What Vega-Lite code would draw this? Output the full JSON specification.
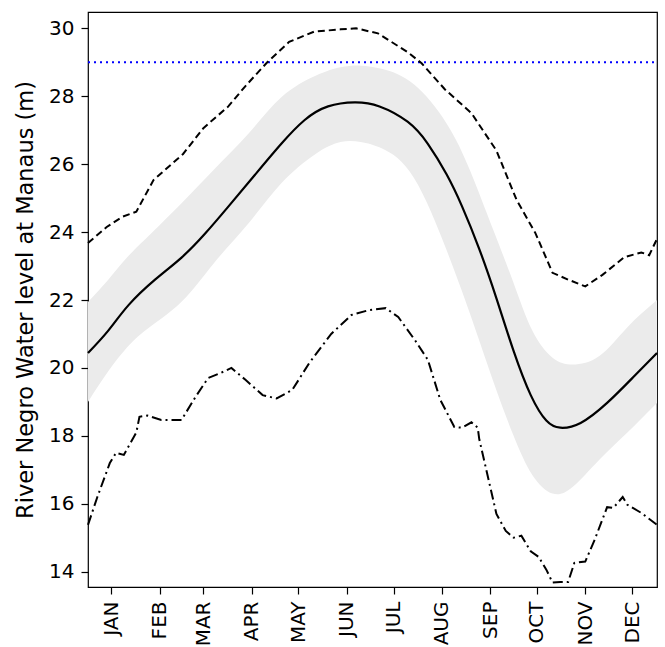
{
  "$schema": "https://vega.github.io/schema/vega-lite/v6.json",
  "autosize": {"type": "none"},
  "width": 569,
  "height": 575,
  "padding": {"left": 88, "top": 12, "right": 8, "bottom": 60},
  "config": {
    "font": "DejaVu Sans",
    "view": {"stroke": "black", "strokeWidth": 1.2},
    "axis": {"grid": false, "domain": false, "tickColor": "black", "labelColor": "black", "titleColor": "black", "labelFont": "DejaVu Sans", "titleFont": "DejaVu Sans", "labelFontSize": 20, "titleFontSize": 22.5, "titleFontWeight": "normal", "tickSize": 7, "tickWidth": 1.2, "labelPadding": 7}
  },
  "datasets": {
    "band": [
      {"day": 0, "lo": 19.0, "hi": 21.94},
      {"day": 13, "lo": 19.9, "hi": 22.6},
      {"day": 25, "lo": 20.6, "hi": 23.25},
      {"day": 38, "lo": 21.15, "hi": 23.85},
      {"day": 60, "lo": 21.95, "hi": 24.85},
      {"day": 81, "lo": 23.1, "hi": 25.85},
      {"day": 103, "lo": 24.26, "hi": 26.9},
      {"day": 124, "lo": 25.44, "hi": 27.97},
      {"day": 146, "lo": 26.3, "hi": 28.6},
      {"day": 162, "lo": 26.65, "hi": 28.85},
      {"day": 175, "lo": 26.65, "hi": 28.9},
      {"day": 189, "lo": 26.45, "hi": 28.8},
      {"day": 209, "lo": 25.6, "hi": 28.35},
      {"day": 230, "lo": 23.47, "hi": 27.2},
      {"day": 245, "lo": 21.6, "hi": 25.82},
      {"day": 260, "lo": 19.6, "hi": 24.06},
      {"day": 273, "lo": 18.0, "hi": 22.5},
      {"day": 285, "lo": 16.85, "hi": 21.1},
      {"day": 298, "lo": 16.3, "hi": 20.3},
      {"day": 311, "lo": 16.5, "hi": 20.1},
      {"day": 328, "lo": 17.3, "hi": 20.35},
      {"day": 346, "lo": 18.1, "hi": 21.2},
      {"day": 365, "lo": 18.97, "hi": 22.0}
    ],
    "mean": [
      {"day": 0, "value": 20.44}, {"day": 13, "value": 21.1}, {"day": 26, "value": 21.85},
      {"day": 43, "value": 22.6}, {"day": 60, "value": 23.25}, {"day": 75, "value": 23.95},
      {"day": 90, "value": 24.75}, {"day": 107, "value": 25.68}, {"day": 124, "value": 26.6},
      {"day": 139, "value": 27.3}, {"day": 154, "value": 27.7}, {"day": 171, "value": 27.82},
      {"day": 187, "value": 27.7}, {"day": 205, "value": 27.25}, {"day": 218, "value": 26.6},
      {"day": 230, "value": 25.7}, {"day": 240, "value": 24.75}, {"day": 251, "value": 23.5},
      {"day": 262, "value": 22.05}, {"day": 273, "value": 20.5}, {"day": 284, "value": 19.2},
      {"day": 294, "value": 18.45}, {"day": 303, "value": 18.24}, {"day": 316, "value": 18.38},
      {"day": 333, "value": 18.97}, {"day": 350, "value": 19.74}, {"day": 365, "value": 20.44}
    ],
    "max": [
      {"day": 0, "value": 23.68}, {"day": 12, "value": 24.15}, {"day": 22, "value": 24.45},
      {"day": 31, "value": 24.6}, {"day": 42, "value": 25.53}, {"day": 61, "value": 26.3},
      {"day": 74, "value": 27.06}, {"day": 90, "value": 27.7}, {"day": 101, "value": 28.3},
      {"day": 115, "value": 29.0}, {"day": 129, "value": 29.6}, {"day": 145, "value": 29.9},
      {"day": 162, "value": 29.97}, {"day": 172, "value": 30.0}, {"day": 186, "value": 29.85},
      {"day": 205, "value": 29.3}, {"day": 214, "value": 28.97}, {"day": 229, "value": 28.2},
      {"day": 246, "value": 27.5}, {"day": 262, "value": 26.4}, {"day": 275, "value": 24.94},
      {"day": 287, "value": 23.97}, {"day": 298, "value": 22.8}, {"day": 308, "value": 22.6},
      {"day": 319, "value": 22.4}, {"day": 330, "value": 22.74}, {"day": 344, "value": 23.26},
      {"day": 355, "value": 23.4}, {"day": 360, "value": 23.32}, {"day": 365, "value": 23.8}
    ],
    "min": [
      {"day": 0, "value": 15.38}, {"day": 6, "value": 16.2}, {"day": 14, "value": 17.2},
      {"day": 18, "value": 17.5}, {"day": 23, "value": 17.44}, {"day": 31, "value": 18.1},
      {"day": 33, "value": 18.56}, {"day": 38, "value": 18.6}, {"day": 47, "value": 18.47},
      {"day": 60, "value": 18.47}, {"day": 69, "value": 19.15}, {"day": 77, "value": 19.7},
      {"day": 85, "value": 19.85}, {"day": 92, "value": 20.0}, {"day": 101, "value": 19.65},
      {"day": 112, "value": 19.2}, {"day": 121, "value": 19.1}, {"day": 131, "value": 19.35},
      {"day": 142, "value": 20.15}, {"day": 156, "value": 21.0}, {"day": 169, "value": 21.56},
      {"day": 180, "value": 21.7}, {"day": 191, "value": 21.76}, {"day": 199, "value": 21.5},
      {"day": 210, "value": 20.8}, {"day": 218, "value": 20.24}, {"day": 226, "value": 19.06},
      {"day": 235, "value": 18.26}, {"day": 240, "value": 18.24}, {"day": 246, "value": 18.4},
      {"day": 250, "value": 18.24}, {"day": 251, "value": 17.9}, {"day": 257, "value": 16.7},
      {"day": 262, "value": 15.7}, {"day": 268, "value": 15.2}, {"day": 273, "value": 15.0},
      {"day": 278, "value": 15.06}, {"day": 284, "value": 14.6}, {"day": 289, "value": 14.44},
      {"day": 294, "value": 14.06}, {"day": 298, "value": 13.68}, {"day": 303, "value": 13.7},
      {"day": 308, "value": 13.7}, {"day": 312, "value": 14.26}, {"day": 319, "value": 14.3},
      {"day": 325, "value": 14.94}, {"day": 333, "value": 15.9}, {"day": 337, "value": 15.88},
      {"day": 343, "value": 16.2}, {"day": 346, "value": 15.97}, {"day": 355, "value": 15.73},
      {"day": 365, "value": 15.38}
    ],
    "threshold": [{"level": 29.0}]
  },
  "encoding": {
    "x": {
      "field": "day", "type": "quantitative",
      "scale": {"domain": [0, 365], "nice": false, "zero": false},
      "axis": {
        "title": null,
        "values": [15, 46, 74, 105, 135, 166, 196, 227, 258, 288, 319, 349],
        "labelExpr": "['JAN','FEB','MAR','APR','MAY','JUN','JUL','AUG','SEP','OCT','NOV','DEC'][indexof([15,46,74,105,135,166,196,227,258,288,319,349], datum.value)]",
        "labelAngle": -90, "labelAlign": "right", "labelBaseline": "middle"
      }
    }
  },
  "layer": [
    {
      "data": {"name": "band"},
      "mark": {"type": "area", "color": "#ebebeb", "interpolate": "natural"},
      "encoding": {
        "y": {
          "field": "lo", "type": "quantitative",
          "scale": {"domain": [13.55, 30.48], "nice": false, "zero": false},
          "axis": {"title": "River Negro Water level at Manaus (m)", "values": [14, 16, 18, 20, 22, 24, 26, 28, 30], "titlePadding": 11}
        },
        "y2": {"field": "hi"}
      }
    },
    {
      "data": {"name": "threshold"},
      "mark": {"type": "rule", "color": "blue", "strokeWidth": 2, "strokeDash": [2, 4]},
      "encoding": {"y": {"field": "level", "type": "quantitative"}, "x": {"value": 0}, "x2": {"value": 569}}
    },
    {
      "data": {"name": "max"},
      "mark": {"type": "line", "color": "black", "strokeWidth": 2, "strokeDash": [7, 4]},
      "encoding": {"y": {"field": "value", "type": "quantitative"}}
    },
    {
      "data": {"name": "min"},
      "mark": {"type": "line", "color": "black", "strokeWidth": 2, "strokeDash": [10, 4, 2, 4]},
      "encoding": {"y": {"field": "value", "type": "quantitative"}}
    },
    {
      "data": {"name": "mean"},
      "mark": {"type": "line", "color": "black", "strokeWidth": 2.2, "interpolate": "natural"},
      "encoding": {"y": {"field": "value", "type": "quantitative"}}
    }
  ]
}
